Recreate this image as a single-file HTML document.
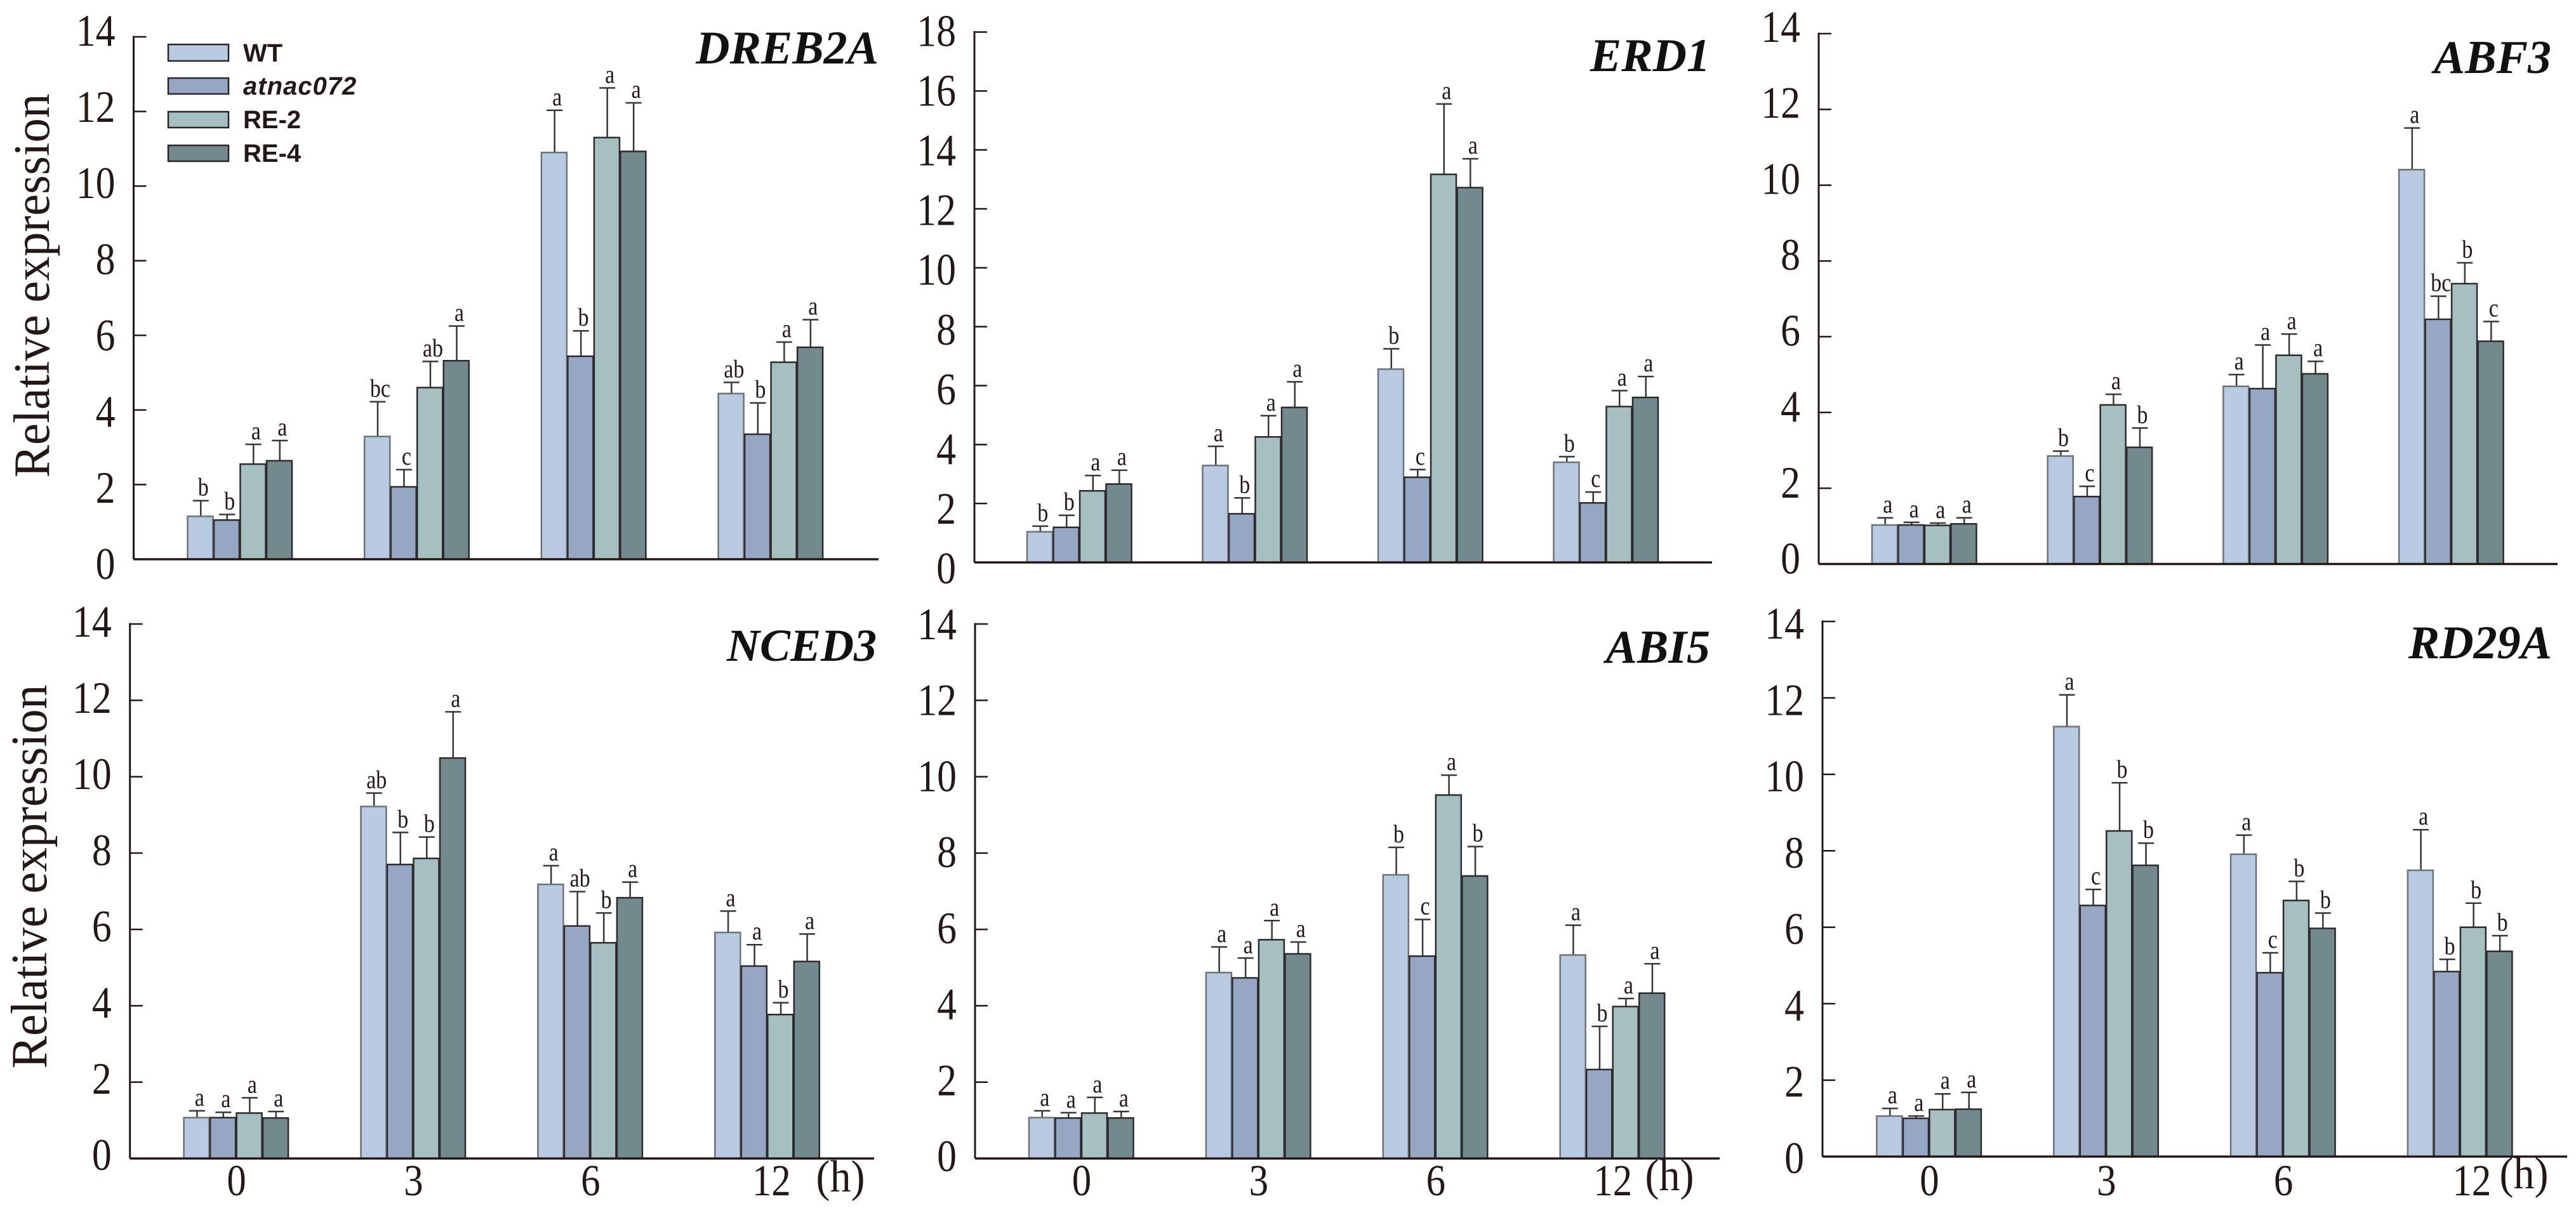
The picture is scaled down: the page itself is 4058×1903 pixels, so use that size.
<!DOCTYPE html>
<html lang="en">
<head>
<meta charset="utf-8">
<title>Relative expression of stress-responsive genes</title>
<style>
html,body{margin:0;padding:0;background:#fff;}
#figure{display:block;width:4058px;height:1903px;}
text{fill:#231815;font-family:"Liberation Serif",serif;}
.gene{font-weight:bold;font-style:italic;font-size:74px;text-anchor:end;fill:#111;}
.ytitle{font-size:80px;text-anchor:middle;}
.legend-text{font-family:"Liberation Sans",sans-serif;font-weight:bold;font-size:40px;}
</style>
</head>
<body>
<svg id="figure" xmlns="http://www.w3.org/2000/svg" width="4058" height="1903" viewBox="0 0 4058 1903">
<rect x="0" y="0" width="4058" height="1903" fill="#ffffff"/>
<g id="plots"></g>

<text class="gene" x="1384" y="100">DREB2A</text>
<text class="gene" x="2694" y="112">ERD1</text>
<text class="gene" x="4019" y="115">ABF3</text>
<text class="gene" x="1381" y="1041" style="font-size:72px">NCED3</text>
<text class="gene" x="2694" y="1044">ABI5</text>
<text class="gene" x="4020" y="1037">RD29A</text>

<text class="ytitle" transform="translate(77,450) rotate(-90) scale(0.962,1)">Relative expression</text>
<text class="ytitle" transform="translate(73,1381) rotate(-90) scale(0.962,1)">Relative expression</text>

<g>
  <g>
    <rect x="265" y="70" width="95" height="26" fill="#b8cae2" stroke="#2b2422" stroke-width="2.5"/>
    <text class="legend-text" x="383" y="97">WT</text>
  </g>
  <g>
    <rect x="265" y="123" width="95" height="25" fill="#96a7c3" stroke="#2b2422" stroke-width="2.5"/>
    <text class="legend-text" x="383" y="149" font-style="italic" letter-spacing="1">atnac072</text>
  </g>
  <g>
    <rect x="265" y="176" width="95" height="25" fill="#a6bfc0" stroke="#2b2422" stroke-width="2.5"/>
    <text class="legend-text" x="383" y="202">RE-2</text>
  </g>
  <g>
    <rect x="265" y="229" width="95" height="25" fill="#728a8d" stroke="#2b2422" stroke-width="2.5"/>
    <text class="legend-text" x="383" y="255">RE-4</text>
  </g>
</g>
</svg>

<script>
// Categories and tick labels
const timePoints = ['0', '3', '6', '12'];
const seriesNames = ['WT', 'atnac072', 'RE-2', 'RE-4'];
const ticksTo14 = [0, 2, 4, 6, 8, 10, 12, 14];
const ticksTo18 = [0, 2, 4, 6, 8, 10, 12, 14, 16, 18];

// DREB2A: one row per time point, one entry per series
const dreb2aMeans = [[1.15, 1.05, 2.55, 2.64], [3.29, 1.94, 4.60, 5.32], [10.90, 5.44, 11.30, 10.93], [4.44, 3.35, 5.28, 5.68]];
const dreb2aUpper = [[1.57, 1.20, 3.08, 3.18], [4.22, 2.40, 5.30, 6.25], [12.03, 6.12, 12.63, 12.23], [4.74, 4.19, 5.82, 6.42]];
const dreb2aLetters = [['b', 'b', 'a', 'a'], ['bc', 'c', 'ab', 'a'], ['a', 'b', 'a', 'a'], ['ab', 'b', 'a', 'a']];

// ERD1
const erd1Means = [[1.04, 1.19, 2.43, 2.66], [3.29, 1.65, 4.26, 5.26], [6.56, 2.89, 13.17, 12.72], [3.40, 2.02, 5.29, 5.60]];
const erd1Upper = [[1.23, 1.60, 2.95, 3.13], [3.94, 2.19, 4.98, 6.13], [7.25, 3.15, 15.56, 13.70], [3.59, 2.39, 5.83, 6.31]];
const erd1Letters = [['b', 'b', 'a', 'a'], ['a', 'b', 'a', 'a'], ['b', 'c', 'a', 'a'], ['b', 'c', 'a', 'a']];

// ABF3
const abf3Means = [[1.03, 1.03, 1.02, 1.06], [2.85, 1.78, 4.20, 3.08], [4.69, 4.63, 5.51, 5.02], [10.41, 6.46, 7.40, 5.88]];
const abf3Upper = [[1.22, 1.10, 1.08, 1.22], [2.98, 2.05, 4.48, 3.59], [5.00, 5.78, 6.07, 5.35], [11.51, 7.07, 7.95, 6.40]];
const abf3Letters = [['a', 'a', 'a', 'a'], ['b', 'c', 'a', 'b'], ['a', 'a', 'a', 'a'], ['a', 'bc', 'b', 'c']];

// NCED3
const nced3Means = [[1.07, 1.07, 1.19, 1.06], [9.22, 7.70, 7.86, 10.49], [7.18, 6.09, 5.65, 6.83], [5.92, 5.04, 3.77, 5.16]];
const nced3Upper = [[1.25, 1.21, 1.59, 1.23], [9.57, 8.54, 8.42, 11.70], [7.67, 6.99, 6.43, 7.24], [6.48, 5.60, 4.08, 5.88]];
const nced3Letters = [['a', 'a', 'a', 'a'], ['ab', 'b', 'b', 'a'], ['a', 'ab', 'b', 'a'], ['a', 'a', 'b', 'a']];

// ABI5
const abi5Means = [[1.07, 1.06, 1.19, 1.06], [4.87, 4.73, 5.73, 5.36], [7.43, 5.30, 9.52, 7.40], [5.33, 2.33, 3.98, 4.33]];
const abi5Upper = [[1.25, 1.20, 1.60, 1.23], [5.54, 5.25, 6.23, 5.67], [8.15, 6.26, 10.04, 8.17], [6.11, 3.46, 4.19, 5.10]];
const abi5Letters = [['a', 'a', 'a', 'a'], ['a', 'a', 'a', 'a'], ['b', 'c', 'a', 'b'], ['a', 'b', 'a', 'a']];

// RD29A
const rd29aMeans = [[1.06, 1.00, 1.23, 1.24], [11.25, 6.57, 8.52, 7.62], [7.91, 4.81, 6.70, 5.97], [7.49, 4.84, 6.00, 5.37]];
const rd29aUpper = [[1.26, 1.06, 1.64, 1.68], [12.08, 6.99, 9.78, 8.20], [8.41, 5.33, 7.20, 6.37], [8.55, 5.16, 6.63, 5.78]];
const rd29aLetters = [['a', 'a', 'a', 'a'], ['a', 'c', 'b', 'b'], ['a', 'c', 'b', 'b'], ['a', 'b', 'b', 'b']];

const seriesFill = ['#b8cae2', '#96a7c3', '#a6bfc0', '#728a8d'];
const seriesStroke = ['#6d7278', '#2e2a2c', '#2e2a2c', '#2e2a2c'];

const panels = [
  {gene: 'dreb2a', means: dreb2aMeans, upper: dreb2aUpper, letters: dreb2aLetters, ticks: ticksTo14, axisX: 210.5, topY: 58, baseY: 881, endX: 1384, barStart: 295.5, groupPitch: 278.7, labelTop: 14, labelBase: 31},
  {gene: 'erd1', means: erd1Means, upper: erd1Upper, letters: erd1Letters, ticks: ticksTo18, axisX: 1535, topY: 50.5, baseY: 886, endX: 2697, barStart: 1618, groupPitch: 276.5, labelTop: 22, labelBase: 33},
  {gene: 'abf3', means: abf3Means, upper: abf3Upper, letters: abf3Letters, ticks: ticksTo14, axisX: 2865, topY: 53, baseY: 888.5, endX: 4029, barStart: 2949, groupPitch: 276.7, labelTop: 13, labelBase: 15},
  {gene: 'nced3', means: nced3Means, upper: nced3Upper, letters: nced3Letters, ticks: ticksTo14, axisX: 204.7, topY: 983, baseY: 1825, endX: 1377, barStart: 289.6, groupPitch: 278.9, hourX: 1324, hourY: 1877, lastShift: 6, labelTop: 20, labelBase: 18},
  {gene: 'abi5', means: abi5Means, upper: abi5Upper, letters: abi5Letters, ticks: ticksTo14, axisX: 1536, topY: 983, baseY: 1825, endX: 2709, barStart: 1621, groupPitch: 278.9, hourX: 2630, hourY: 1875, lastShift: 0, labelTop: 24, labelBase: 20},
  {gene: 'rd29a', means: rd29aMeans, upper: rd29aUpper, letters: rd29aLetters, ticks: ticksTo14, axisX: 2871, topY: 979, baseY: 1822, endX: 4044, barStart: 2956.5, groupPitch: 278.8, hourX: 3976, hourY: 1872, lastShift: 18, labelTop: 27, labelBase: 26}
];

const SVG_NS = 'http://www.w3.org/2000/svg';
const plots = document.getElementById('plots');
const INK = '#231815';
const BAR_PITCH = 41.5;

function make(parent, tag, props) {
  const node = document.createElementNS(SVG_NS, tag);
  for (const key in props) node.setAttribute(key, props[key]);
  parent.appendChild(node);
  return node;
}

function drawPanel(p) {
  const maxValue = p.ticks[p.ticks.length - 1];
  const yScale = v => p.baseY - (v / maxValue) * (p.baseY - p.topY);
  const groupX = g => p.barStart + g * p.groupPitch;
  const barX = (g, s) => groupX(g) + s * BAR_PITCH;

  const panel = make(plots, 'g', {});
  
  

  // Bars, error bars, significance letters
  p.means.forEach((row, g) => {
    row.forEach((value, s) => {
      const left = barX(g, s);
      const centre = left + BAR_PITCH / 2;
      const top = yScale(value);
      const capY = yScale(p.upper[g][s]);

      const err = make(panel, 'path', {
        d: 'M' + centre + ' ' + top + 'V' + capY + 'M' + (centre - 12.5) + ' ' + capY + 'H' + (centre + 12.5),
        fill: 'none', stroke: '#3a3536', 'stroke-width': 2.5
      });
      
      

      const bar = make(panel, 'rect', {
        x: left, y: top, width: BAR_PITCH - 1.5, height: p.baseY - top,
        fill: seriesFill[s], stroke: seriesStroke[s], 'stroke-width': 2.5
      });
      
      

      const letter = make(panel, 'text', {
        transform: 'translate(' + (centre + 4) + ',' + (capY - 8) + ') scale(0.85,1)',
        'text-anchor': 'middle', 'font-size': 40
      });
      letter.textContent = p.letters[g][s];
      
      
    });
  });

  // Axes
  const axisY = make(panel, 'path', {
    d: 'M' + p.axisX + ' ' + (p.topY - 1.5) + 'V' + p.baseY,
    fill: 'none', stroke: INK, 'stroke-width': 3
  });
  
  

  const axisX = make(panel, 'path', {
    d: 'M' + p.axisX + ' ' + p.baseY + 'H' + p.endX,
    fill: 'none', stroke: INK, 'stroke-width': 3.5
  });
  
  

  p.ticks.forEach(t => {
    const y = yScale(t);
    if (t > 0) {
      const tick = make(panel, 'path', {
        d: 'M' + p.axisX + ' ' + y + 'h20', fill: 'none', stroke: INK, 'stroke-width': 2.5
      });
      
      
    }
    const baselineOffset = p.labelBase + (p.labelTop - p.labelBase) * (t / maxValue);
    const label = make(panel, 'text', {
      transform: 'translate(' + (p.axisX - 29) + ',' + (y + baselineOffset) + ') scale(0.87,1)',
      'text-anchor': 'end', 'font-size': 71
    });
    label.textContent = String(t);
    
    
  });

  // Time labels (bottom row only)
  if (p.hourX) {
    timePoints.forEach((name, g) => {
      const centre = groupX(g) + 2 * BAR_PITCH + (g === timePoints.length - 1 ? p.lastShift : 0);
      const label = make(panel, 'text', {
        transform: 'translate(' + centre + ',1883) scale(0.87,1)',
        'text-anchor': 'middle', 'font-size': 70
      });
      label.textContent = name;
      
      
    });
    const unit = make(panel, 'text', {
      transform: 'translate(' + p.hourX + ',' + p.hourY + ') scale(0.93,1)',
      'text-anchor': 'middle', 'font-size': 71
    });
    unit.textContent = '(h)';
    
    
  }
}

panels.forEach(drawPanel);
</script>
</body>
</html>
